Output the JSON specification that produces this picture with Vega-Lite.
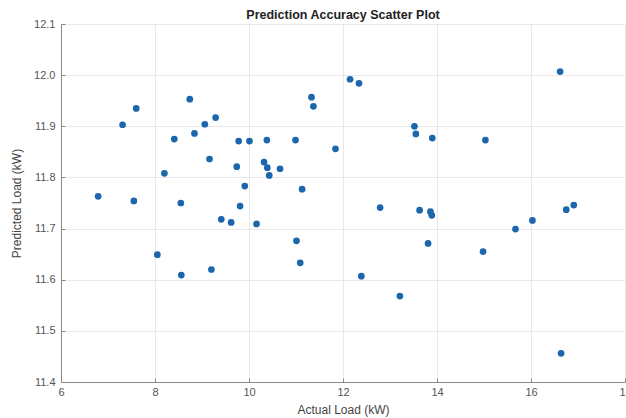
{
  "$schema": "https://vega.github.io/schema/vega-lite/v6.json",
  "autosize": {"type": "none"},
  "width": 564,
  "height": 358,
  "padding": {"left": 61, "top": 24, "right": 1, "bottom": 36},
  "background": "white",
  "title": {
    "text": "Prediction Accuracy Scatter Plot",
    "font": "Liberation Sans",
    "fontSize": 12.5,
    "fontWeight": "bold",
    "color": "#222222",
    "anchor": "middle",
    "offset": -3
  },
  "config": {
    "view": {"stroke": null},
    "axis": {
      "labelFont": "Liberation Sans",
      "titleFont": "Liberation Sans",
      "labelFontSize": 11,
      "titleFontSize": 12,
      "titleFontWeight": "normal",
      "labelColor": "#555555",
      "titleColor": "#444444",
      "domainColor": "#8a8a8a",
      "tickColor": "#8a8a8a",
      "gridColor": "#e8e8e8",
      "gridWidth": 1
    }
  },
  "data": {
    "values": [
      {"actual": 6.79, "predicted": 11.763},
      {"actual": 7.31, "predicted": 11.903},
      {"actual": 7.60, "predicted": 11.935},
      {"actual": 7.55, "predicted": 11.754},
      {"actual": 8.20, "predicted": 11.808},
      {"actual": 8.41, "predicted": 11.875},
      {"actual": 8.74, "predicted": 11.953},
      {"actual": 8.84, "predicted": 11.886},
      {"actual": 9.06, "predicted": 11.904},
      {"actual": 9.29, "predicted": 11.917},
      {"actual": 9.16, "predicted": 11.836},
      {"actual": 8.55, "predicted": 11.750},
      {"actual": 9.78, "predicted": 11.871},
      {"actual": 10.01, "predicted": 11.871},
      {"actual": 10.38, "predicted": 11.873},
      {"actual": 9.74, "predicted": 11.821},
      {"actual": 10.32, "predicted": 11.830},
      {"actual": 10.39, "predicted": 11.819},
      {"actual": 10.43, "predicted": 11.804},
      {"actual": 10.66, "predicted": 11.817},
      {"actual": 9.91, "predicted": 11.783},
      {"actual": 9.81, "predicted": 11.744},
      {"actual": 9.41, "predicted": 11.718},
      {"actual": 9.62, "predicted": 11.712},
      {"actual": 10.16, "predicted": 11.709},
      {"actual": 10.99, "predicted": 11.873},
      {"actual": 11.13, "predicted": 11.777},
      {"actual": 11.01, "predicted": 11.676},
      {"actual": 11.33, "predicted": 11.957},
      {"actual": 11.37, "predicted": 11.939},
      {"actual": 11.84, "predicted": 11.856},
      {"actual": 8.05, "predicted": 11.649},
      {"actual": 8.56, "predicted": 11.609},
      {"actual": 9.20, "predicted": 11.620},
      {"actual": 11.09, "predicted": 11.633},
      {"actual": 12.15, "predicted": 11.992},
      {"actual": 12.34, "predicted": 11.984},
      {"actual": 16.62, "predicted": 12.007},
      {"actual": 13.52, "predicted": 11.900},
      {"actual": 13.55, "predicted": 11.885},
      {"actual": 13.90, "predicted": 11.877},
      {"actual": 15.03, "predicted": 11.873},
      {"actual": 12.79, "predicted": 11.741},
      {"actual": 13.63, "predicted": 11.736},
      {"actual": 13.86, "predicted": 11.733},
      {"actual": 13.89, "predicted": 11.726},
      {"actual": 15.67, "predicted": 11.699},
      {"actual": 16.03, "predicted": 11.716},
      {"actual": 16.75, "predicted": 11.737},
      {"actual": 16.91, "predicted": 11.746},
      {"actual": 13.81, "predicted": 11.671},
      {"actual": 14.98, "predicted": 11.655},
      {"actual": 12.39, "predicted": 11.607},
      {"actual": 13.21, "predicted": 11.568},
      {"actual": 16.64, "predicted": 11.456}
    ]
  },
  "mark": {"type": "point", "filled": true, "opacity": 1, "size": 45, "color": "#1b66ad"},
  "encoding": {
    "x": {
      "field": "actual",
      "type": "quantitative",
      "scale": {"domain": [6, 18], "nice": false, "zero": false},
      "axis": {
        "title": "Actual Load (kW)",
        "values": [6, 8, 10, 12, 14, 16, 18],
        "tickSize": -4,
        "labelPadding": 8,
        "titlePadding": 7,
        "labelFlush": false,
        "labelOverlap": false
      }
    },
    "y": {
      "field": "predicted",
      "type": "quantitative",
      "scale": {"domain": [11.4, 12.1], "nice": false, "zero": false},
      "axis": {
        "title": "Predicted Load (kW)",
        "values": [11.4, 11.5, 11.6, 11.7, 11.8, 11.9, 12.0, 12.1],
        "tickSize": -4,
        "labelPadding": 10,
        "titlePadding": 10,
        "labelFlush": false,
        "labelOverlap": false
      }
    }
  }
}
